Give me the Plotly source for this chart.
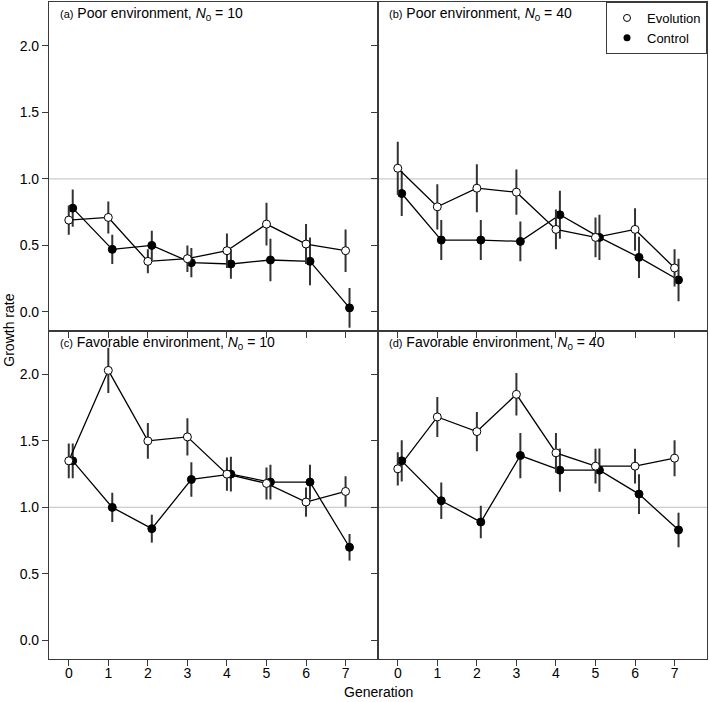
# -*- coding: utf-8 -*-
# growth rate per generation, evolution vs control, 4 panels
#---------------------------------------------------------------------------
import plotly.graph_objects as go
from plotly.subplots import make_subplots

#---------------------------------------------------
# data
gen = [0, 1, 2, 3, 4, 5, 6, 7]

evo_a    = [0.69, 0.71, 0.38, 0.40, 0.46, 0.66, 0.51, 0.46]
evo_a_se = [0.11, 0.12, 0.09, 0.10, 0.13, 0.16, 0.15, 0.16]
ctl_a    = [0.78, 0.47, 0.50, 0.37, 0.36, 0.39, 0.38, 0.03]
ctl_a_se = [0.14, 0.11, 0.11, 0.11, 0.11, 0.16, 0.18, 0.15]

evo_b    = [1.08, 0.79, 0.93, 0.90, 0.62, 0.56, 0.62, 0.33]
evo_b_se = [0.20, 0.17, 0.18, 0.17, 0.15, 0.15, 0.16, 0.14]
ctl_b    = [0.89, 0.54, 0.54, 0.53, 0.73, 0.56, 0.41, 0.24]
ctl_b_se = [0.17, 0.15, 0.15, 0.15, 0.18, 0.17, 0.155, 0.16]

evo_c    = [1.35, 2.03, 1.50, 1.53, 1.25, 1.18, 1.04, 1.12]
evo_c_se = [0.13, 0.17, 0.135, 0.14, 0.125, 0.12, 0.11, 0.115]
ctl_c    = [1.35, 1.00, 0.84, 1.21, 1.25, 1.19, 1.19, 0.70]
ctl_c_se = [0.13, 0.11, 0.105, 0.13, 0.13, 0.13, 0.13, 0.10]

evo_d    = [1.29, 1.68, 1.57, 1.85, 1.41, 1.31, 1.31, 1.37]
evo_d_se = [0.125, 0.15, 0.147, 0.16, 0.15, 0.13, 0.13, 0.135]
ctl_d    = [1.35, 1.05, 0.89, 1.39, 1.28, 1.28, 1.10, 0.83]
ctl_d_se = [0.155, 0.137, 0.122, 0.17, 0.162, 0.162, 0.15, 0.13]

panels = [
  ("(a)", "Poor environment, ", "10", evo_a, evo_a_se, ctl_a, ctl_a_se, 1, 1),
  ("(b)", "Poor environment, ", "40", evo_b, evo_b_se, ctl_b, ctl_b_se, 1, 2),
  ("(c)", "Favorable environment, ", "10", evo_c, evo_c_se, ctl_c, ctl_c_se, 2, 1),
  ("(d)", "Favorable environment, ", "40", evo_d, evo_d_se, ctl_d, ctl_d_se, 2, 2),
]

#---------------------------------------------------
FONT = "Liberation Sans, Arial, sans-serif"
EBAR = "#333333"
BORDER = "#3a3a3a"

fig = make_subplots(rows=2, cols=2, horizontal_spacing=0, vertical_spacing=0)

for lab, env, n0, evo, evo_se, ctl, ctl_se, r, c in panels:
  # control a bit to the right of evolution
  x_ctl = [g + 0.1 for g in gen]
  fig.add_trace(go.Scatter(
    x=x_ctl, y=ctl, mode="lines+markers", showlegend=False,
    line=dict(color="black", width=1.3),
    marker=dict(symbol="circle", size=8, color="black", line=dict(color="black", width=1)),
    error_y=dict(type="data", array=ctl_se, visible=True, color=EBAR, thickness=2, width=0),
  ), row=r, col=c)
  fig.add_trace(go.Scatter(
    x=gen, y=evo, mode="lines+markers", showlegend=False,
    line=dict(color="black", width=1.3),
    marker=dict(symbol="circle", size=8, color="white", line=dict(color="black", width=1)),
    error_y=dict(type="data", array=evo_se, visible=True, color=EBAR, thickness=2, width=0),
  ), row=r, col=c)
  fig.add_hline(y=1, line=dict(color="#cccccc", width=1.2), layer="below", row=r, col=c)

  idx = (r - 1) * 2 + c
  xa = "x" if idx == 1 else f"x{idx}"
  ya = "y" if idx == 1 else f"y{idx}"
  fig.add_annotation(
    x=0.027, y=0.962, xref=f"{xa} domain", yref=f"{ya} domain",
    xanchor="left", yanchor="middle", showarrow=False,
    text=f"<span style='font-size:11px'>{lab}</span> {env}<i>N</i><sub>0</sub> = {n0}",
    font=dict(family=FONT, size=14, color="black"),
  )

# legend only entries
fig.add_trace(go.Scatter(x=[None], y=[None], mode="markers", name="Evolution",
  marker=dict(symbol="circle", size=7, color="white", line=dict(color="black", width=1))))
fig.add_trace(go.Scatter(x=[None], y=[None], mode="markers", name="Control",
  marker=dict(symbol="circle", size=7, color="black")))

#---------------------------------------------------
# axes
for r in (1, 2):
  for c in (1, 2):
    fig.update_xaxes(
      range=[-0.5, 7.82], tickvals=gen, showticklabels=(r == 2),
      ticks="outside", ticklen=6, tickcolor=BORDER, tickwidth=1,
      ticklabelstandoff=-5,
      showline=True, mirror=True, linecolor=BORDER, linewidth=1.1,
      showgrid=False, zeroline=False,
      tickfont=dict(family=FONT, size=14, color="black"),
      row=r, col=c)
    fig.update_yaxes(
      range=[-0.14, 2.33], tickvals=[0, 0.5, 1, 1.5, 2], tickformat=".1f",
      showticklabels=(c == 1),
      ticks="outside", ticklen=6, tickcolor=BORDER, tickwidth=1,
      showline=True, mirror=True, linecolor=BORDER, linewidth=1.1,
      showgrid=False, zeroline=False,
      tickfont=dict(family=FONT, size=14, color="black"),
      row=r, col=c)

fig.add_annotation(x=-0.062, y=0.5, xref="paper", yref="paper", text="Growth rate",
  textangle=-90, xanchor="center", yanchor="middle", showarrow=False,
  font=dict(family=FONT, size=14, color="black"))
fig.add_annotation(x=0.5015, y=-0.05, xref="paper", yref="paper", text="Generation",
  xanchor="center", yanchor="middle", showarrow=False,
  font=dict(family=FONT, size=14, color="black"))

fig.update_layout(
  width=709, height=702,
  margin=dict(l=49, r=2, t=2, b=43),
  paper_bgcolor="white", plot_bgcolor="white",
  font=dict(family=FONT, size=14, color="black"),
  legend=dict(x=1, y=1, xanchor="right", yanchor="top",
              bordercolor=BORDER, borderwidth=1, bgcolor="white",
              font=dict(family=FONT, size=13, color="black"),
              itemwidth=30, tracegroupgap=0),
)

# page body has an 8px margin by default, drop it so the figure sits at 0,0
fig.write_html("out.html", config={"displayModeBar": False},
               post_script="document.body.style.margin='0';")
